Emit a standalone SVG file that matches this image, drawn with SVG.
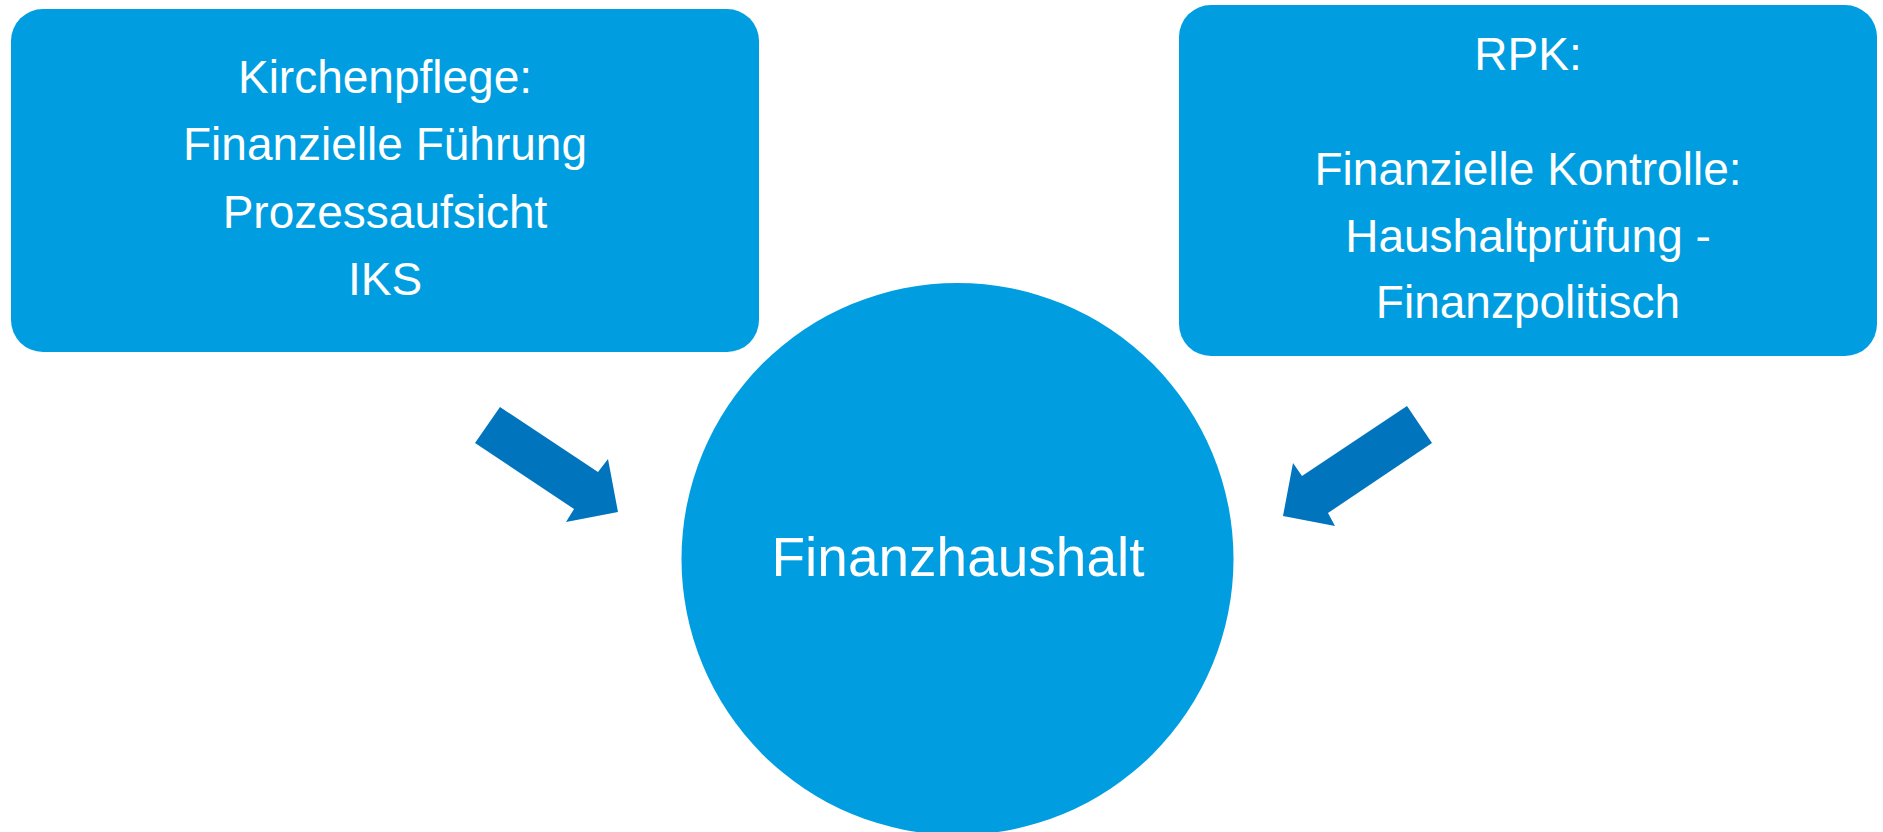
<svg xmlns="http://www.w3.org/2000/svg" width="1883" height="832" viewBox="0 0 1883 832">
  <style>
    .shape { fill: #009EE0; }
    .arrow { fill: #0075BE; }
    .label { font-family: "Liberation Sans", Arial, sans-serif; fill: #FFFFFF; text-anchor: middle; }
    .box-text { font-size: 46px; }
    .hub-text { font-size: 55px; }
  </style>

  <!-- Connectors: block arrows pointing into the central circle -->
  <g id="connectors">
    <polygon class="arrow" points="500,407 598,472 608,459 618,512 566,522 574,509 475,443"/>
    <polygon class="arrow" points="1407,406 1432,443 1328,513 1335,526 1283,516 1293,463 1302,476"/>
  </g>

  <!-- Left box: Kirchenpflege -->
  <g id="kirchenpflege">
    <rect class="shape" x="11" y="9" width="748" height="343" rx="32" ry="32"/>
    <text class="label box-text" x="385" y="93">Kirchenpflege:</text>
    <text class="label box-text" x="385" y="160">Finanzielle Führung</text>
    <text class="label box-text" x="385" y="228">Prozessaufsicht</text>
    <text class="label box-text" x="385" y="295">IKS</text>
  </g>

  <!-- Right box: RPK -->
  <g id="rpk">
    <rect class="shape" x="1179" y="5" width="698" height="351" rx="32" ry="32"/>
    <text class="label box-text" x="1528" y="70">RPK:</text>
    <text class="label box-text" x="1528" y="185">Finanzielle Kontrolle:</text>
    <text class="label box-text" x="1528" y="252">Haushaltprüfung -</text>
    <text class="label box-text" x="1528" y="318">Finanzpolitisch</text>
  </g>

  <!-- Central node: Finanzhaushalt -->
  <g id="finanzhaushalt">
    <circle class="shape" cx="957.5" cy="559" r="276"/>
    <text class="label hub-text" x="958" y="576">Finanzhaushalt</text>
  </g>
</svg>
